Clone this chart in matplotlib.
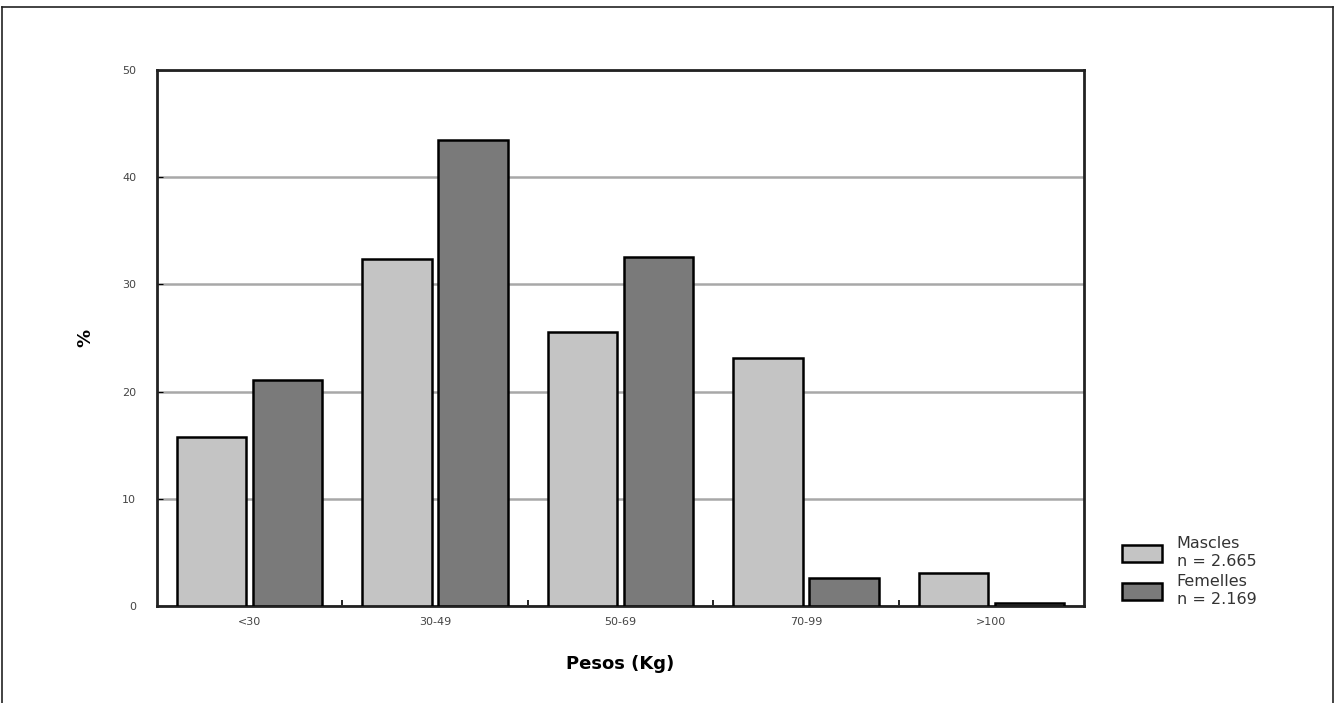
import numpy as np
import matplotlib
matplotlib.use('Agg')
import matplotlib.pyplot as plt
from matplotlib.lines import Line2D

# Data
categories = ['<30', '30-49', '50-69', '70-99', '>100']
mascles = [15.8, 32.4, 25.6, 23.1, 3.1]
femelles = [21.1, 43.5, 32.6, 2.6, 0.3]
legend_labels = ['Mascles\nn = 2.665', 'Femelles\nn = 2.169']
yticks = [0, 10, 20, 30, 40, 50]

W, H = 1336, 703
fig = plt.figure(figsize=(W / 100, H / 100), dpi=100)
fig.patch.set_facecolor('white')

# axes box in pixels: left 157, right 1084, top 70, bottom 606
ax = fig.add_axes([157 / W, 1 - 606 / H, (1084 - 157) / W, (606 - 70) / H])

x = np.arange(len(categories))
w = 0.375
ax.bar(x - 0.205, mascles, w, color='#c4c4c4', edgecolor='black', linewidth=1.8,
       label=legend_labels[0], zorder=3)
ax.bar(x + 0.205, femelles, w, color='#7a7a7a', edgecolor='black', linewidth=1.8,
       label=legend_labels[1], zorder=3)

ax.set_xlim(-0.5, len(categories) - 0.5)
ax.set_ylim(0, 50)
ax.set_yticks(yticks)
ax.set_yticklabels([str(t) for t in yticks], fontsize=8, color='#444444')
ax.set_xticks(x)
ax.set_xticklabels(categories, fontsize=8, color='#444444')
ax.tick_params(axis='x', length=0, pad=8)
ax.tick_params(axis='y', length=4, direction='in', pad=15)
ax.set_xticks(np.arange(0.5, len(categories) - 0.5), minor=True)
ax.tick_params(axis='x', which='minor', length=4, direction='in', width=1.2)

ax.yaxis.grid(True, color='#a8a8a8', linewidth=1.8, zorder=0)
for s in ax.spines.values():
    s.set_linewidth(2)
    s.set_color('#222222')

ax.set_ylabel('%', fontsize=13, fontweight='bold', labelpad=20)
ax.set_xlabel('Pesos (Kg)', fontsize=13, fontweight='bold', labelpad=20)

leg = ax.legend(loc='upper left', bbox_to_anchor=(1108 / W, 1 - 522 / H),
                bbox_transform=fig.transFigure, frameon=False, fontsize=11.5,
                handlelength=2.5, handleheight=1.3, labelspacing=0.35,
                handletextpad=0.9)
for t in leg.get_texts():
    t.set_color('#333333')

# outer frame of the figure
fr = dict(color='#222222', linewidth=1.2, transform=fig.transFigure)
fig.add_artist(Line2D([2 / W, 1333 / W], [1 - 7 / H, 1 - 7 / H], **fr))
fig.add_artist(Line2D([2 / W, 2 / W], [0, 1 - 7 / H], **fr))
fig.add_artist(Line2D([1333 / W, 1333 / W], [0, 1 - 7 / H], **fr))

fig.savefig('out.png', dpi=100)
